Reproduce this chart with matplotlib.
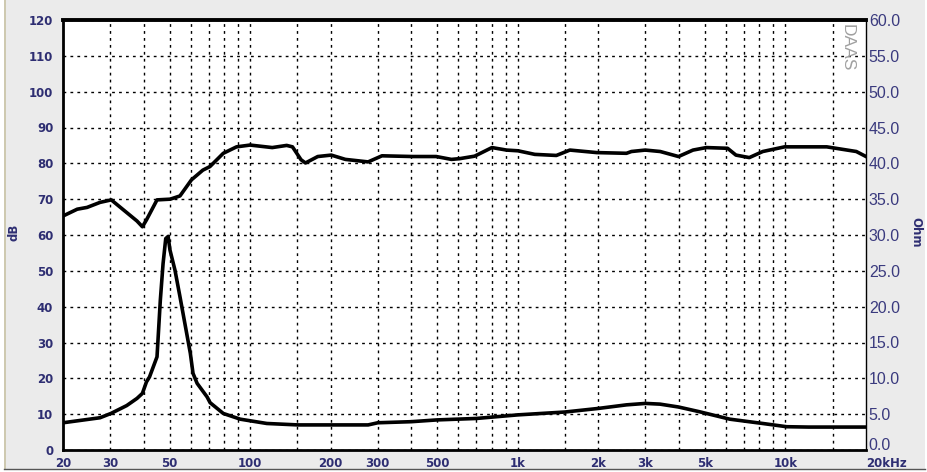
import matplotlib
matplotlib.use("Agg")
import matplotlib.pyplot as plt
from matplotlib.patches import Rectangle
from matplotlib.lines import Line2D
from matplotlib.ticker import NullFormatter

# =====================================
# DATA
# =====================================
spl_freq = [20, 22.6, 24.6, 27.5, 30.3, 37.8, 39.6, 41, 44.9, 50.3, 54.7, 60.4,
            66.6, 70.8, 79.4, 89, 100, 121, 137, 144, 155, 161, 179, 201, 227,
            276, 311, 406, 496, 565, 606, 690, 801, 908, 1002, 1158, 1394, 1566,
            1971, 2548, 2659, 2995, 3405, 3986, 4516, 5062, 6079, 6533, 7330,
            8231, 9930, 14270, 18400, 20000]
spl_db = [65.3, 67.2, 67.7, 69.1, 69.8, 63.9, 62.3, 64.2, 69.8, 70.0, 70.9, 75.4,
          78.1, 79.1, 82.8, 84.6, 85.1, 84.4, 85.0, 84.6, 81.0, 80.1, 81.9, 82.3, 81.1,
          80.4, 82.1, 81.9, 81.9, 81.1, 81.3, 82.0, 84.4, 83.7, 83.5, 82.5, 82.2, 83.7,
          83.0, 82.8, 83.3, 83.7, 83.3, 81.9, 83.7, 84.4, 84.2, 82.3, 81.6,
          83.3, 84.6, 84.6, 83.3, 81.9]

imp_freq = [20, 27.5, 30.2, 34.6, 37.8, 39.6, 41, 42.1, 44.9, 46.2, 47.3, 48.4,
            49.4, 50.2, 52.4, 54.7, 59.8, 61.2, 63.4, 69.1, 70.9, 79.4, 91.9, 115.5,
            151, 200, 276, 300, 400, 500, 700, 1000, 1500, 2000, 2548, 3000, 3400,
            3986, 4760, 5680, 6200, 8230, 10100, 12200, 20000]
imp_ohm = [3.8, 4.5, 5.1, 6.2, 7.2, 7.9, 9.5, 10.2, 13.0, 20.9, 26.0, 29.5,
           29.8, 27.9, 25.1, 21.4, 13.5, 10.7, 9.3, 7.4, 6.6, 5.1, 4.3, 3.7,
           3.5, 3.5, 3.5, 3.8, 3.95, 4.2, 4.4, 4.9, 5.3, 5.8, 6.3, 6.5, 6.4,
           6.0, 5.35, 4.65, 4.3, 3.7, 3.25, 3.2, 3.2]

x_ticks = [20, 30, 50, 100, 200, 300, 500, 1000, 2000, 3000, 5000, 10000, 20000]
x_labels = ["20", "30", "50", "100", "200", "300", "500", "1k", "2k", "3k", "5k", "10k", "20kHz"]
x_grid = [30, 40, 50, 60, 70, 80, 90, 100, 150, 200, 300, 400, 500, 600, 700, 800,
          900, 1000, 1500, 2000, 3000, 4000, 5000, 6000, 7000, 8000, 9000, 10000, 15000]
db_ticks = list(range(0, 121, 10))
ohm_ticks = [0, 5, 10, 15, 20, 25, 30, 35, 40, 45, 50, 55, 60]

navy = "#2e2e72"

# =====================================
# FIGURE
# =====================================
fig = plt.figure(figsize=(9.28, 4.72), dpi=100, facecolor="white")
fig.patches.append(Rectangle((4 / 928, 3 / 472), 921 / 928, 469 / 472,
                             transform=fig.transFigure, facecolor="#ebebeb",
                             edgecolor="none", zorder=-10))
fig.lines.append(Line2D([4.5 / 928, 4.5 / 928], [3 / 472, 1], transform=fig.transFigure,
                        color="#c9c3a5", lw=1.2, zorder=-5))
fig.lines.append(Line2D([4 / 928, 925 / 928], [3 / 472, 3 / 472], transform=fig.transFigure,
                        color="#555555", lw=1.0, zorder=-5))

ax = fig.add_axes([63 / 928, 22 / 472, 803 / 928, 430 / 472])
ax.set_facecolor("white")
ax.set_xscale("log")
ax.set_xlim(20, 20000)
ax.set_ylim(0, 120)

ax.plot(spl_freq, spl_db, color="black", lw=2.6, solid_joinstyle="round", zorder=3)

ax.set_xticks(x_ticks)
ax.set_xticklabels(x_labels)
ax.set_xticks(x_grid, minor=True)
ax.xaxis.remove_overlapping_locs = False
ax.xaxis.set_minor_formatter(NullFormatter())
ax.set_yticks(db_ticks)
ax.tick_params(axis="both", which="both", length=0)
ax.tick_params(axis="x", pad=5, labelsize=8.5, labelcolor=navy)
ax.tick_params(axis="y", pad=7, labelsize=8.5, labelcolor=navy)
for lbl in ax.get_xticklabels() + ax.get_yticklabels():
    lbl.set_fontweight("bold")
last = ax.get_xticklabels()[-1]
last.set_horizontalalignment("left")

ax.grid(False, which="major", axis="x")
ax.grid(True, which="minor", axis="x", color="black", ls=(0, (2, 3)), lw=1.0)
ax.grid(True, which="major", axis="y", color="black", ls=(0, (2, 3)), lw=1.0)
ax.set_axisbelow(True)

ax.spines["top"].set_linewidth(2.8)
ax.spines["left"].set_linewidth(2.0)
ax.spines["bottom"].set_linewidth(2.0)
ax.spines["right"].set_linewidth(1.0)

fig.text(14 / 928, 1 - 232 / 472, "dB", rotation=90, ha="center", va="center",
         color=navy, fontsize=8.5, fontweight="bold")

# impedance on right axis
ax2 = ax.twinx()
ax2.set_ylim(0, 60)
ax2.plot(imp_freq, imp_ohm, color="black", lw=2.6, solid_joinstyle="round", zorder=3)
ax2.set_yticks(ohm_ticks)
ax2.set_yticklabels([f"{v:.1f}" for v in ohm_ticks], family="Liberation Sans")
ax2.tick_params(axis="y", length=0, pad=2, labelsize=11.5, labelcolor="#3a3a7e")
r_labels = ax2.get_yticklabels()
r_labels[0].set_verticalalignment("baseline")
for s in ax2.spines.values():
    s.set_visible(False)

fig.text(916 / 928, 1 - 232 / 472, "Ohm", rotation=-90, ha="center", va="center",
         color=navy, fontsize=8.5, fontweight="bold")

ax.text(0.977, 0.99, "DAAS", rotation=-90, transform=ax.transAxes, ha="center",
        va="top", color="#a0a0a0", fontsize=12.5, family="Liberation Sans")

fig.savefig("out.png", dpi=100, facecolor=fig.get_facecolor())
